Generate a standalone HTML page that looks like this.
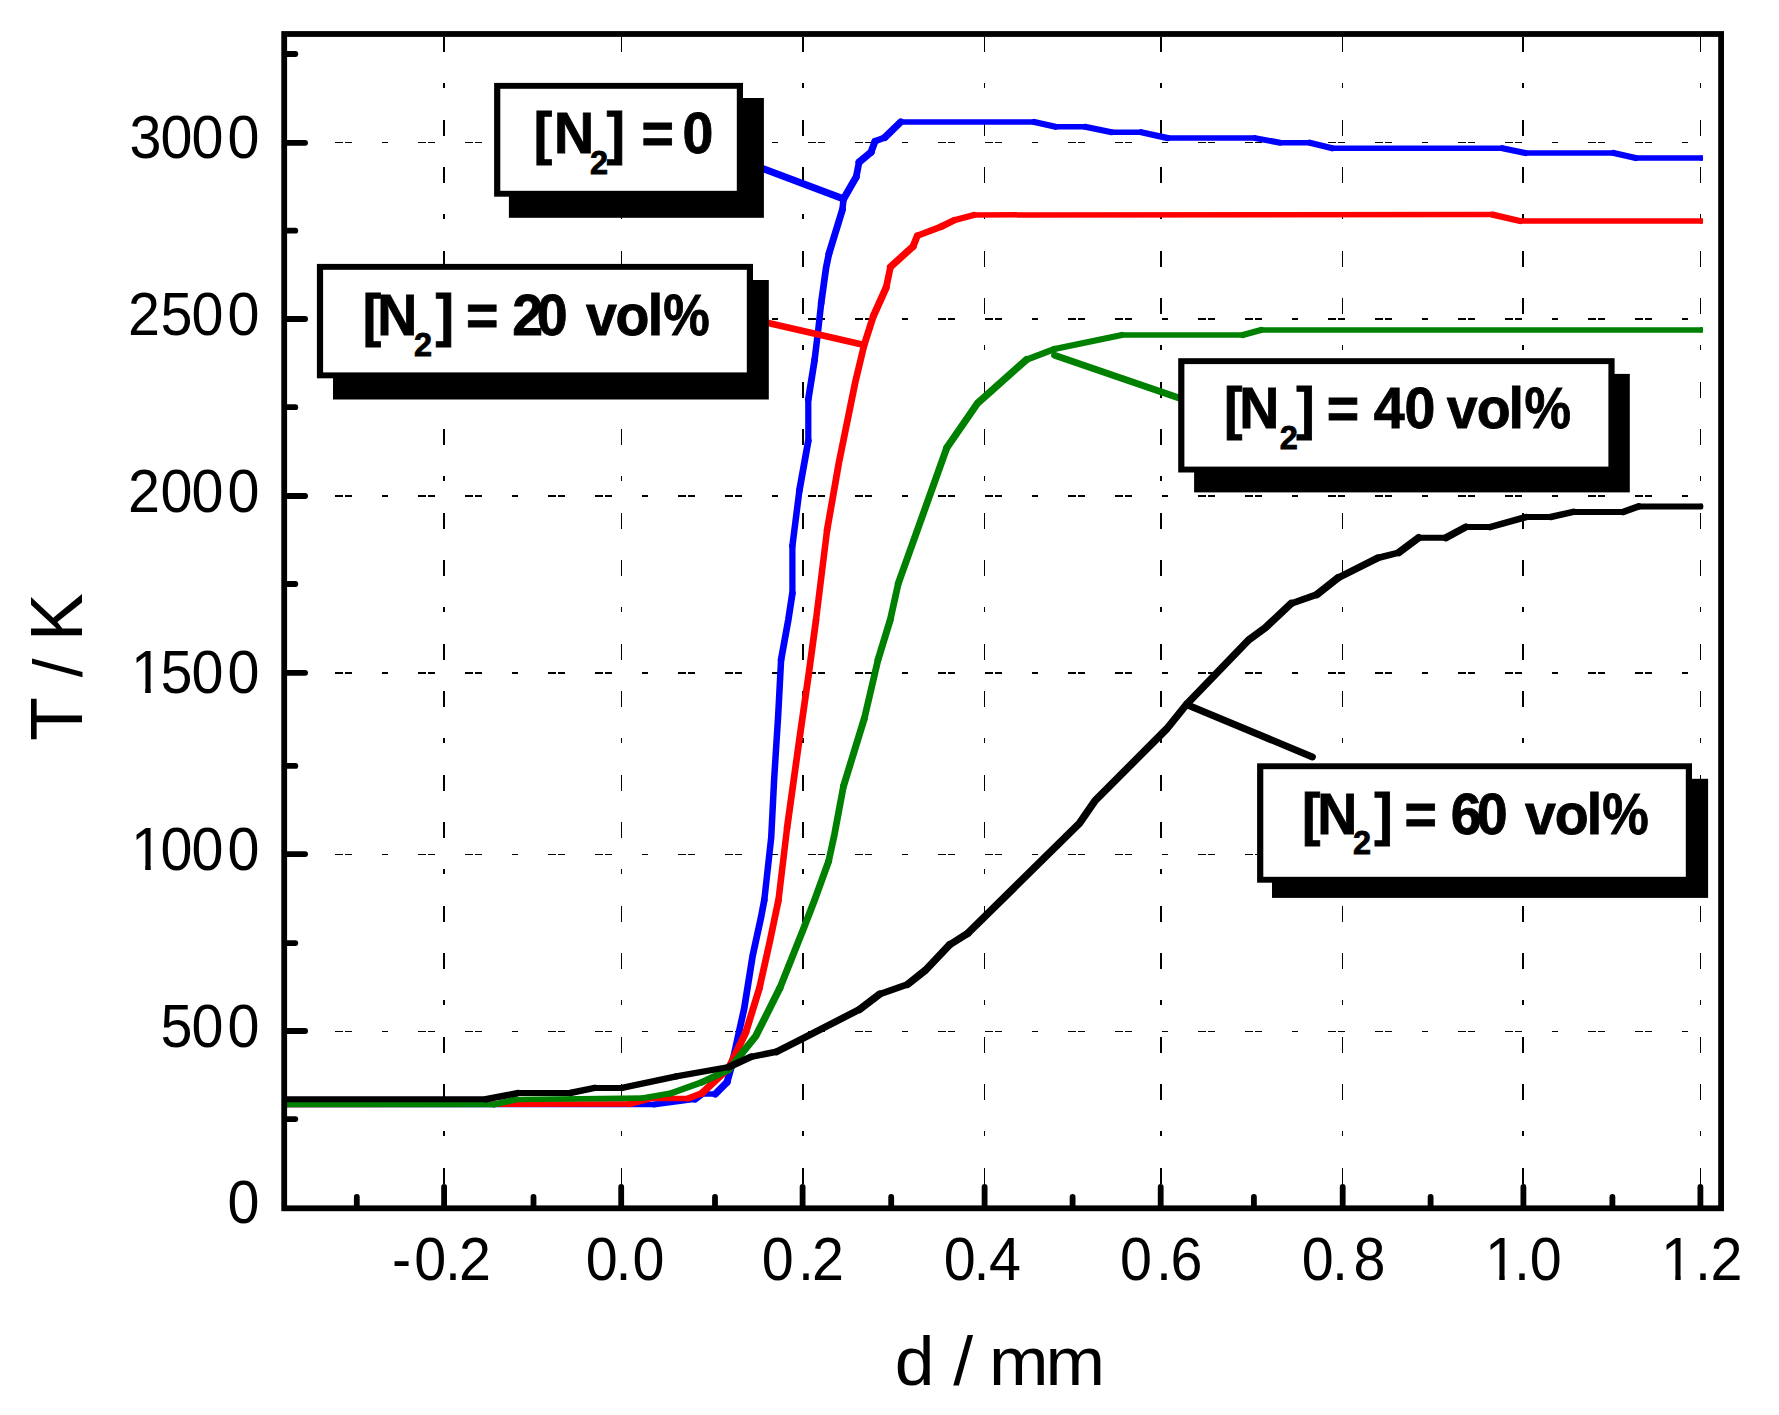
<!DOCTYPE html>
<html lang="en"><head><meta charset="utf-8"><title>T / K vs d / mm</title>
<style>html,body{margin:0;padding:0;background:#fff}svg{display:block}text{font-family:"Liberation Sans",Arial,sans-serif;fill:#000}.b{font-weight:bold}</style></head><body>
<svg width="1779" height="1415" viewBox="0 0 1779 1415">
<rect width="1779" height="1415" fill="#fff"/>
<g stroke="#000" fill="none" shape-rendering="crispEdges">
<line x1="335" y1="142.5" x2="1718" y2="142.5" stroke-width="1" stroke-dasharray="7.5 2.5 7 30 6 30 7.5 2.5 7 30"/>
<line x1="335" y1="319" x2="1718" y2="319" stroke-width="2" stroke-dasharray="7.5 2.5 7 30 6 30 7.5 2.5 7 30"/>
<line x1="335" y1="496" x2="1718" y2="496" stroke-width="2" stroke-dasharray="7.5 2.5 7 30 6 30 7.5 2.5 7 30"/>
<line x1="335" y1="673" x2="1718" y2="673" stroke-width="2" stroke-dasharray="7.5 2.5 7 30 6 30 7.5 2.5 7 30"/>
<line x1="335" y1="854.5" x2="1718" y2="854.5" stroke-width="1" stroke-dasharray="7.5 2.5 7 30 6 30 7.5 2.5 7 30"/>
<line x1="335" y1="1031.5" x2="1718" y2="1031.5" stroke-width="1" stroke-dasharray="7.5 2.5 7 30 6 30 7.5 2.5 7 30"/>
<line x1="444" y1="37" x2="444" y2="1190" stroke-width="2" stroke-dasharray="16.5 30.5 16.5 30.5 5.5 31.5" stroke-dashoffset="48.5"/>
<line x1="621.5" y1="37" x2="621.5" y2="1190" stroke-width="1" stroke-dasharray="16.5 30.5 16.5 30.5 5.5 31.5" stroke-dashoffset="48.5"/>
<line x1="803" y1="37" x2="803" y2="1190" stroke-width="2" stroke-dasharray="16.5 30.5 16.5 30.5 5.5 31.5" stroke-dashoffset="48.5"/>
<line x1="984.5" y1="37" x2="984.5" y2="1190" stroke-width="1" stroke-dasharray="16.5 30.5 16.5 30.5 5.5 31.5" stroke-dashoffset="48.5"/>
<line x1="1161" y1="37" x2="1161" y2="1190" stroke-width="2" stroke-dasharray="16.5 30.5 16.5 30.5 5.5 31.5" stroke-dashoffset="48.5"/>
<line x1="1342.5" y1="37" x2="1342.5" y2="1190" stroke-width="1" stroke-dasharray="16.5 30.5 16.5 30.5 5.5 31.5" stroke-dashoffset="48.5"/>
<line x1="1523" y1="37" x2="1523" y2="1190" stroke-width="2" stroke-dasharray="16.5 30.5 16.5 30.5 5.5 31.5" stroke-dashoffset="48.5"/>
<line x1="1700.5" y1="37" x2="1700.5" y2="1190" stroke-width="1" stroke-dasharray="16.5 30.5 16.5 30.5 5.5 31.5" stroke-dashoffset="48.5"/>
</g>
<g stroke="#000" stroke-width="5.8" stroke-linecap="round" fill="none">
<line x1="285.2" y1="54.0" x2="295.3" y2="54.0"/>
<line x1="285.2" y1="142.8" x2="305.1" y2="142.8"/>
<line x1="285.2" y1="230.7" x2="295.3" y2="230.7"/>
<line x1="285.2" y1="319.0" x2="305.1" y2="319.0"/>
<line x1="285.2" y1="407.2" x2="295.3" y2="407.2"/>
<line x1="285.2" y1="496.0" x2="305.1" y2="496.0"/>
<line x1="285.2" y1="584" x2="295.3" y2="584"/>
<line x1="285.2" y1="672.8" x2="305.1" y2="672.8"/>
<line x1="285.2" y1="765.9" x2="295.3" y2="765.9"/>
<line x1="285.2" y1="854.1" x2="305.1" y2="854.1"/>
<line x1="285.2" y1="943.1" x2="295.3" y2="943.1"/>
<line x1="285.2" y1="1031.0" x2="305.1" y2="1031.0"/>
<line x1="285.2" y1="1119.1" x2="295.3" y2="1119.1"/>
<line x1="356.8" y1="1207.3" x2="356.8" y2="1196.9"/>
<line x1="444.1" y1="1207.3" x2="444.1" y2="1186.9"/>
<line x1="533.5" y1="1207.3" x2="533.5" y2="1196.9"/>
<line x1="621.2" y1="1207.3" x2="621.2" y2="1186.9"/>
<line x1="715" y1="1207.3" x2="715" y2="1196.9"/>
<line x1="802.6" y1="1207.3" x2="802.6" y2="1186.9"/>
<line x1="891.2" y1="1207.3" x2="891.2" y2="1196.9"/>
<line x1="984.6" y1="1207.3" x2="984.6" y2="1186.9"/>
<line x1="1072.6" y1="1207.3" x2="1072.6" y2="1196.9"/>
<line x1="1160.7" y1="1207.3" x2="1160.7" y2="1186.9"/>
<line x1="1253.9" y1="1207.3" x2="1253.9" y2="1196.9"/>
<line x1="1342.7" y1="1207.3" x2="1342.7" y2="1186.9"/>
<line x1="1430.6" y1="1207.3" x2="1430.6" y2="1196.9"/>
<line x1="1523.4" y1="1207.3" x2="1523.4" y2="1186.9"/>
<line x1="1612.4" y1="1207.3" x2="1612.4" y2="1196.9"/>
<line x1="1700.4" y1="1207.3" x2="1700.4" y2="1186.9"/>
</g>
<g fill="none" stroke="#0000ff" stroke-linejoin="round" stroke-linecap="round"><path stroke-width="5.5" d="M286.0 1104.5 L654.0 1104.5"/><path stroke-width="6.0" d="M654.0 1104.5 L695.0 1099.1"/><path stroke-width="7.0" d="M695.0 1099.1 L702.0 1094.0"/><path stroke-width="5.5" d="M702.0 1094.0 L715.3 1094.0"/><path stroke-width="7.25" d="M715.3 1094.0 L727.0 1082.3"/><path stroke-width="7.0" d="M727.0 1082.3 L731.4 1066.6"/><path stroke-width="6.75" d="M731.4 1066.6 L744.2 1008.5 L752.6 956.0 L761.1 917.0 L764.3 900.0"/><path stroke-width="6.5" d="M764.3 900.0 L771.2 837.7 L774.2 778.3 L778.2 715.0 L781.1 659.6"/><path stroke-width="6.75" d="M781.1 659.6 L788.3 620.0 L792.4 593.3"/><path stroke-width="6.25" d="M792.4 593.3 L792.4 545.8"/><path stroke-width="6.5" d="M792.4 545.8 L799.4 490.4"/><path stroke-width="6.75" d="M799.4 490.4 L808.3 440.9"/><path stroke-width="6.25" d="M808.3 440.9 L808.3 399.4"/><path stroke-width="6.75" d="M808.3 399.4 L814.6 360.0"/><path stroke-width="6.5" d="M814.6 360.0 L818.4 328.4 L821.2 303.0"/><path stroke-width="6.75" d="M821.2 303.0 L826.1 267.6 L829.0 253.5"/><path stroke-width="7.0" d="M829.0 253.5 L842.4 209.7"/><path stroke-width="6.5" d="M842.4 209.7 L843.6 198.9"/><path stroke-width="7.25" d="M843.6 198.9 L856.2 177.0"/><path stroke-width="6.75" d="M856.2 177.0 L859.1 162.1"/><path stroke-width="7.25" d="M859.1 162.1 L871.0 152.2"/><path stroke-width="7.0" d="M871.0 152.2 L875.0 141.3"/><path stroke-width="6.5" d="M875.0 141.3 L884.9 137.4"/><path stroke-width="7.25" d="M884.9 137.4 L900.7 122.0"/><path stroke-width="5.5" d="M900.7 122.0 L1034.3 122.0"/><path stroke-width="6.25" d="M1034.3 122.0 L1055.5 126.8"/><path stroke-width="5.5" d="M1055.5 126.8 L1085.0 126.8"/><path stroke-width="6.25" d="M1085.0 126.8 L1111.7 132.2"/><path stroke-width="5.5" d="M1111.7 132.2 L1141.2 132.2"/><path stroke-width="6.25" d="M1141.2 132.2 L1167.9 138.1"/><path stroke-width="5.5" d="M1167.9 138.1 L1255.0 138.1"/><path stroke-width="6.0" d="M1255.0 138.1 L1280.3 142.8"/><path stroke-width="5.5" d="M1280.3 142.8 L1309.8 142.8"/><path stroke-width="6.25" d="M1309.8 142.8 L1332.3 148.2"/><path stroke-width="5.5" d="M1332.3 148.2 L1502.3 148.2"/><path stroke-width="6.25" d="M1502.3 148.2 L1525.3 153.0"/><path stroke-width="5.5" d="M1525.3 153.0 L1613.7 153.0"/><path stroke-width="6.25" d="M1613.7 153.0 L1635.7 158.0"/><path stroke-width="5.5" d="M1635.7 158.0 L1700.4 158.0"/></g>
<g fill="none" stroke="#ff0000" stroke-linejoin="round" stroke-linecap="round"><path stroke-width="5.5" d="M286.0 1104.5 L630.0 1104.0"/><path stroke-width="6.25" d="M630.0 1104.0 L650.0 1098.5"/><path stroke-width="5.5" d="M650.0 1098.5 L688.0 1098.5"/><path stroke-width="6.5" d="M688.0 1098.5 L701.8 1093.3"/><path stroke-width="7.25" d="M701.8 1093.3 L728.9 1067.9 L745.8 1032.3"/><path stroke-width="7.0" d="M745.8 1032.3 L759.4 988.2"/><path stroke-width="6.75" d="M759.4 988.2 L769.6 942.4 L778.5 900.0"/><path stroke-width="6.5" d="M778.5 900.0 L787.1 827.8"/><path stroke-width="6.75" d="M787.1 827.8 L798.9 742.7 L808.8 673.4 L816.0 620.0"/><path stroke-width="6.5" d="M816.0 620.0 L827.1 530.0"/><path stroke-width="6.75" d="M827.1 530.0 L838.9 462.7 L855.3 382.0 L864.3 344.5"/><path stroke-width="7.0" d="M864.3 344.5 L873.5 315.7"/><path stroke-width="7.25" d="M873.5 315.7 L886.2 287.4"/><path stroke-width="6.75" d="M886.2 287.4 L890.5 266.9"/><path stroke-width="7.25" d="M890.5 266.9 L913.1 246.4"/><path stroke-width="7.0" d="M913.1 246.4 L917.3 235.8"/><path stroke-width="6.5" d="M917.3 235.8 L941.3 226.6"/><path stroke-width="6.75" d="M941.3 226.6 L954.1 220.3"/><path stroke-width="6.25" d="M954.1 220.3 L973.9 214.9"/><path stroke-width="5.5" d="M973.9 214.9 L1492.5 214.6"/><path stroke-width="6.25" d="M1492.5 214.6 L1520.0 221.0"/><path stroke-width="5.5" d="M1520.0 221.0 L1700.4 221.0"/></g>
<g fill="none" stroke="#008000" stroke-linejoin="round" stroke-linecap="round"><path stroke-width="5.5" d="M286.0 1104.5 L494.0 1104.5"/><path stroke-width="6.25" d="M494.0 1104.5 L516.0 1099.5"/><path stroke-width="5.75" d="M516.0 1099.5 L642.4 1098.1"/><path stroke-width="6.0" d="M642.4 1098.1 L671.2 1093.3"/><path stroke-width="6.5" d="M671.2 1093.3 L701.8 1082.3"/><path stroke-width="6.75" d="M701.8 1082.3 L728.9 1069.6"/><path stroke-width="7.25" d="M728.9 1069.6 L756.0 1035.7 L779.8 988.2"/><path stroke-width="7.0" d="M779.8 988.2 L803.5 928.8 L814.6 900.0 L828.6 861.4"/><path stroke-width="6.75" d="M828.6 861.4 L834.6 833.7 L843.5 786.2"/><path stroke-width="7.0" d="M843.5 786.2 L864.2 718.9"/><path stroke-width="6.75" d="M864.2 718.9 L878.1 659.6"/><path stroke-width="7.0" d="M878.1 659.6 L890.2 620.0"/><path stroke-width="6.75" d="M890.2 620.0 L898.3 583.4"/><path stroke-width="7.0" d="M898.3 583.4 L946.8 447.8"/><path stroke-width="7.25" d="M946.8 447.8 L977.5 403.3 L1026.4 359.7"/><path stroke-width="6.5" d="M1026.4 359.7 L1054.5 349.0"/><path stroke-width="6.25" d="M1054.5 349.0 L1121.9 335.0"/><path stroke-width="5.5" d="M1121.9 335.0 L1242.8 335.0"/><path stroke-width="6.25" d="M1242.8 335.0 L1261.0 329.9"/><path stroke-width="5.5" d="M1261.0 329.9 L1700.4 329.9"/></g>
<g fill="none" stroke="#000000" stroke-linejoin="round" stroke-linecap="round"><path stroke-width="6.0" d="M286.0 1099.3 L485.7 1099.3"/><path stroke-width="6.5" d="M485.7 1099.3 L518.3 1093.0"/><path stroke-width="6.0" d="M518.3 1093.0 L570.0 1093.0"/><path stroke-width="6.5" d="M570.0 1093.0 L594.8 1087.9"/><path stroke-width="6.0" d="M594.8 1087.9 L622.0 1087.9"/><path stroke-width="6.5" d="M622.0 1087.9 L676.3 1076.4"/><path stroke-width="6.25" d="M676.3 1076.4 L728.9 1067.0"/><path stroke-width="7.0" d="M728.9 1067.0 L750.9 1056.9"/><path stroke-width="6.5" d="M750.9 1056.9 L776.4 1051.8"/><path stroke-width="7.0" d="M776.4 1051.8 L803.5 1038.2 L859.5 1009.4"/><path stroke-width="7.5" d="M859.5 1009.4 L879.8 994.1"/><path stroke-width="6.75" d="M879.8 994.1 L907.6 984.4"/><path stroke-width="7.5" d="M907.6 984.4 L925.7 970.0 L949.7 944.7"/><path stroke-width="7.25" d="M949.7 944.7 L967.7 933.4"/><path stroke-width="7.5" d="M967.7 933.4 L1079.4 823.4 L1095.1 800.6 L1167.1 728.5 L1186.4 704.5 L1248.6 640.0 L1265.3 627.8 L1291.1 603.6"/><path stroke-width="6.75" d="M1291.1 603.6 L1316.9 594.5"/><path stroke-width="7.5" d="M1316.9 594.5 L1338.1 577.8"/><path stroke-width="7.0" d="M1338.1 577.8 L1377.6 558.0"/><path stroke-width="6.5" d="M1377.6 558.0 L1398.8 552.6"/><path stroke-width="7.5" d="M1398.8 552.6 L1418.6 537.7"/><path stroke-width="6.0" d="M1418.6 537.7 L1445.9 537.7"/><path stroke-width="7.25" d="M1445.9 537.7 L1465.6 527.1"/><path stroke-width="6.0" d="M1465.6 527.1 L1489.9 527.1"/><path stroke-width="6.5" d="M1489.9 527.1 L1526.3 517.0"/><path stroke-width="6.0" d="M1526.3 517.0 L1550.6 517.0"/><path stroke-width="6.5" d="M1550.6 517.0 L1573.4 511.9"/><path stroke-width="6.0" d="M1573.4 511.9 L1623.4 511.9"/><path stroke-width="6.75" d="M1623.4 511.9 L1638.6 506.4"/><path stroke-width="6.0" d="M1638.6 506.4 L1700.4 506.4"/></g>
<rect x="1700" y="155.2" width="2.9" height="5.6" fill="#0000ff"/>
<rect x="1700" y="218.2" width="2.9" height="5.6" fill="#ff0000"/>
<rect x="1700" y="327.1" width="2.9" height="5.6" fill="#008000"/>
<rect x="1700" y="503.6" width="2.9" height="5.6" fill="#000000"/>
<g fill="none" stroke="#0000ff" stroke-linejoin="round" stroke-linecap="butt"><path stroke-width="7.0" d="M760.0 167.6 L842.8 198.6"/></g>
<g fill="none" stroke="#ff0000" stroke-linejoin="round" stroke-linecap="butt"><path stroke-width="6.75" d="M765.0 322.2 L863.2 344.7"/></g>
<g fill="none" stroke="#008000" stroke-linejoin="round" stroke-linecap="round"><path stroke-width="6.75" d="M1054.5 355.2 L1182.0 399.0"/></g>
<g fill="none" stroke="#000000" stroke-linejoin="round" stroke-linecap="round"><path stroke-width="7.0" d="M1186.4 704.5 L1312.4 756.9"/></g>
<rect x="284.2" y="34.0" width="1436.8999999999999" height="1174.3" fill="none" stroke="#000" stroke-width="5.8"/>
<rect x="508.9" y="98.0" width="255.0" height="119.8" fill="#000"/>
<rect x="494.1" y="82.9" width="248.9" height="113.8" fill="#000"/>
<rect x="500.3" y="88.8" width="236.5" height="102.0" fill="#fff"/>
<rect x="333.0" y="280.0" width="435.8" height="119.5" fill="#000"/>
<rect x="316.9" y="263.9" width="436.1" height="114.4" fill="#000"/>
<rect x="323.1" y="269.8" width="423.7" height="102.6" fill="#fff"/>
<rect x="1194.1" y="373.9" width="435.7" height="118.5" fill="#000"/>
<rect x="1178.2" y="358.2" width="436.4" height="114.3" fill="#000"/>
<rect x="1184.4" y="364.1" width="424.0" height="102.5" fill="#fff"/>
<rect x="1272.0" y="778.8" width="436.1" height="119.1" fill="#000"/>
<rect x="1257.1" y="763.3" width="434.9" height="119.4" fill="#000"/>
<rect x="1263.3" y="769.2" width="422.5" height="107.6" fill="#fff"/>
<text class="b" stroke="#000" stroke-width="0.8" font-size="55.5" transform="translate(0 152.9) scale(1 1.02)" y="0" x="533.7 554.1">[N<tspan font-size="32.5" x="590.0" y="20.5">2</tspan><tspan y="0" x="606.4 625 641.4 670 682.5">] = 0</tspan></text>
<text class="b" stroke="#000" stroke-width="0.8" font-size="55.5" transform="translate(0 334.9) scale(1 1.02)" y="0" x="362.7 377.3">[N<tspan font-size="32.5" x="413.9" y="20.4">2</tspan><tspan y="0" x="435.4 452 465.9 495 512.2 536.7 568 585.9 615.5 647.7">] = 20 vol</tspan><tspan y="0" x="663.2" textLength="46.5" lengthAdjust="spacingAndGlyphs">%</tspan></text>
<text class="b" stroke="#000" stroke-width="0.8" font-size="55.5" transform="translate(0 427.8) scale(1 1.02)" y="0" x="1223.9 1239.3">[N<tspan font-size="32.5" x="1279.8" y="20.7">2</tspan><tspan y="0" x="1296.3 1313 1326.7 1356 1373.8 1404.5 1435 1446.7 1476.7 1508.4">] = 40 vol</tspan><tspan y="0" x="1524.5" textLength="46.5" lengthAdjust="spacingAndGlyphs">%</tspan></text>
<text class="b" stroke="#000" stroke-width="0.8" font-size="55.5" transform="translate(0 834.1) scale(1 1.02)" y="0" x="1301.9 1317.3">[N<tspan font-size="32.5" x="1353.1" y="19.3">2</tspan><tspan y="0" x="1374.2 1391 1404.5 1434 1450.7 1476.7 1508 1525.1 1554.7 1586.7">] = 60 vol</tspan><tspan y="0" x="1602.3" textLength="46.5" lengthAdjust="spacingAndGlyphs">%</tspan></text>
<text font-size="57.5" transform="translate(0 157.8) scale(1 1.065)" x="129.6 160.5 191.4 227.4" y="0">3000</text>
<text font-size="57.5" transform="translate(0 334.6) scale(1 1.065)" x="128.0 160.5 191.4 227.4" y="0">2500</text>
<text font-size="57.5" transform="translate(0 511.5) scale(1 1.065)" x="128.0 160.5 191.4 227.4" y="0">2000</text>
<text font-size="57.5" transform="translate(0 692.8) scale(1 1.065)" x="131.0 160.5 191.4 227.4" y="0">1500</text>
<text font-size="57.5" transform="translate(0 869.7) scale(1 1.065)" x="131.0 160.5 191.4 227.4" y="0">1000</text>
<text font-size="57.5" transform="translate(0 1046.7) scale(1 1.065)" x="160.5 191.4 227.4" y="0">500</text>
<text font-size="57.5" transform="translate(0 1222.6) scale(1 1.065)" x="227.4" y="0">0</text>
<text font-size="57.5" transform="translate(0 1279.7) scale(1 1.065)" x="392.0 414.2 445.0 459.1" y="0">-0.2</text>
<text font-size="57.5" transform="translate(0 1279.7) scale(1 1.065)" x="585.8 615.5 632.4" y="0">0.0</text>
<text font-size="57.5" transform="translate(0 1279.7) scale(1 1.065)" x="761.7 797.9 812.0" y="0">0.2</text>
<text font-size="57.5" transform="translate(0 1279.7) scale(1 1.065)" x="943.8 973.5 989.0" y="0">0.4</text>
<text font-size="57.5" transform="translate(0 1279.7) scale(1 1.065)" x="1120.1 1156.0 1170.4" y="0">0.6</text>
<text font-size="57.5" transform="translate(0 1279.7) scale(1 1.065)" x="1301.8 1331.9 1353.5" y="0">0.8</text>
<text font-size="57.5" transform="translate(0 1279.7) scale(1 1.065)" x="1485.0 1514.0 1529.7" y="0">1.0</text>
<text font-size="57.5" transform="translate(0 1279.7) scale(1 1.065)" x="1661.0 1695.0 1710.5" y="0">1.2</text>
<rect x="134.4" y="687.6" width="10.8" height="6.2" fill="#fff"/><rect x="150.7" y="687.6" width="10.4" height="6.2" fill="#fff"/>
<rect x="134.4" y="864.5" width="10.8" height="6.2" fill="#fff"/><rect x="150.7" y="864.5" width="10.4" height="6.2" fill="#fff"/>
<rect x="1488.5" y="1274.5" width="10.8" height="6.2" fill="#fff"/><rect x="1504.7" y="1274.5" width="10.4" height="6.2" fill="#fff"/>
<rect x="1664.5" y="1274.5" width="10.8" height="6.2" fill="#fff"/><rect x="1680.7" y="1274.5" width="10.4" height="6.2" fill="#fff"/>
<text font-size="71.5" transform="translate(0 1384.8) scale(1 0.955)" x="894.7 934.5 953.2 973.1 989 1045.5" y="0">d / mm</text>
<text font-size="71.5" transform="translate(82.3 740.8) rotate(-90) scale(1 1.026)" y="0"><tspan x="0 43.7">T </tspan><tspan font-size="67.5" x="63.6 83">/ </tspan><tspan x="99.9">K</tspan></text>
</svg></body></html>
